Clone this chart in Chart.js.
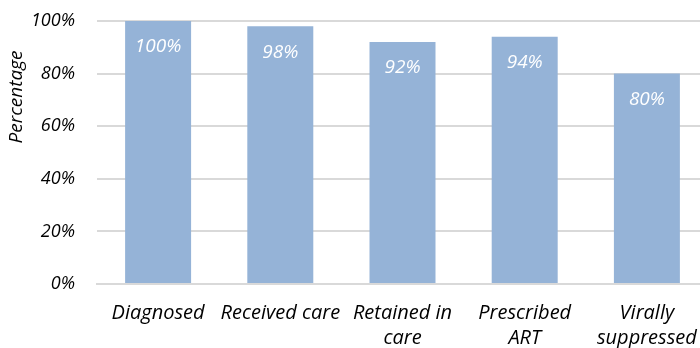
<!DOCTYPE html>
<html>
<head>
<meta charset="utf-8">
<script src="https://cdn.jsdelivr.net/npm/chart.js@4/dist/chart.umd.min.js"></script>
<style>
  html, body { margin: 0; padding: 0; background: #fff; overflow: hidden; }
  /* the plot area runs a few pixels past the right edge of the page */
  #wrap { width: 700px; height: 348px; overflow: hidden; }
  canvas { display: block; }
</style>
</head>
<body>
<div id="wrap"><canvas id="cascade" width="708" height="348"></canvas></div>
<script>
// care cascade stages and share of people at each stage
const stages = [['Diagnosed'], ['Received care'], ['Retained in', 'care'], ['Prescribed', 'ART'], ['Virally', 'suppressed']];
const percent = [100, 98, 92, 94, 80];
const yTicks = [0, 20, 40, 60, 80, 100];
const yTitle = 'Percentage';

const FONT = '"Open Sans", "Noto Sans", sans-serif';

// white value label just below the top of each bar
const barLabels = {
  id: 'barLabels',
  afterDatasetsDraw(chart) {
    const ctx = chart.ctx;
    const meta = chart.getDatasetMeta(0);
    ctx.save();
    ctx.fillStyle = '#ffffff';
    ctx.font = 'italic 19px ' + FONT;
    ctx.textAlign = 'center';
    ctx.textBaseline = 'middle';
    meta.data.forEach((bar, i) => {
      ctx.fillText(percent[i] + '%', bar.x, bar.y + 26);
    });
    ctx.restore();
  }
};

// rotated axis title, sitting in the upper part of the axis
const axisTitle = {
  id: 'axisTitle',
  afterDraw(chart) {
    const ctx = chart.ctx;
    ctx.save();
    ctx.translate(17, 97);
    ctx.rotate(-Math.PI / 2);
    ctx.fillStyle = '#000';
    ctx.font = 'italic 19px ' + FONT;
    ctx.textAlign = 'center';
    ctx.textBaseline = 'middle';
    ctx.fillText(yTitle, 0, 0);
    ctx.restore();
  }
};

new Chart(document.getElementById('cascade'), {
  type: 'bar',
  data: {
    labels: stages,
    datasets: [{
      data: percent,
      backgroundColor: '#95b3d7',
      borderWidth: 0,
      categoryPercentage: 1,
      barPercentage: 0.54
    }]
  },
  options: {
    responsive: false,
    animation: false,
    devicePixelRatio: 1,
    layout: { padding: { top: 21, right: 0, left: 0, bottom: 0 } },
    plugins: { legend: { display: false }, tooltip: { enabled: false } },
    scales: {
      x: {
        grid: { display: false, drawTicks: false },
        border: { color: '#d9d9d9', width: 2 },
        ticks: {
          color: '#000',
          font: { family: FONT, size: 20, style: 'italic', lineHeight: 1.25 },
          padding: 17,
          maxRotation: 0,
          autoSkip: false
        },
        afterFit(scale) {
          scale.height = 64;
          scale.paddingLeft = 0;
          scale.paddingRight = 0;
        }
      },
      y: {
        min: 0,
        max: 100,
        afterBuildTicks(scale) { scale.ticks = yTicks.map(v => ({ value: v })); },
        grid: { color: '#d9d9d9', lineWidth: 2, drawTicks: false },
        border: { display: false },
        ticks: {
          color: '#000',
          font: { family: FONT, size: 18, style: 'italic' },
          padding: 22,
          callback: v => v + '%'
        },
        afterFit(scale) {
          scale.width = 97;
          scale.paddingTop = 0;
          scale.paddingBottom = 0;
        }
      }
    }
  },
  plugins: [barLabels, axisTitle]
});
</script>
</body>
</html>
